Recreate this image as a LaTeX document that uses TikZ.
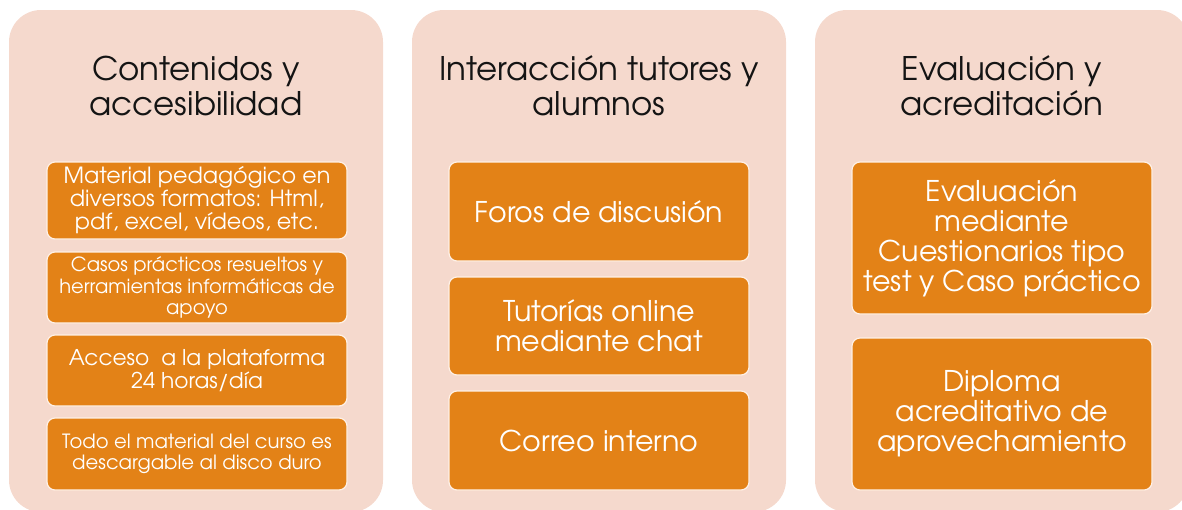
\documentclass[tikz,border=0pt]{standalone}
\usepackage{fontspec}
\setmainfont{TeX Gyre Adventor}
\definecolor{panelbg}{HTML}{F5D9CD}
\definecolor{boxor}{HTML}{E38217}
\definecolor{boxedge}{HTML}{FFF1E6}
\definecolor{titletext}{HTML}{141414}
\begin{document}
\begin{tikzpicture}[x=1pt,y=-1pt,
  panel/.style={fill=panelbg, rounded corners=32pt},
  title/.style={text=titletext, align=center, font=\fontsize{32.5}{35}\selectfont, inner sep=0pt},
  obox/.style={fill=boxor, draw=boxedge, line width=1.2pt, rounded corners=8pt, minimum width=300pt,
    text=white, align=center, inner sep=0pt},
  fA/.style={font=\fontsize{22.3}{23}\selectfont},
  fA2/.style={font=\fontsize{21.7}{23}\selectfont},
  fB/.style={font=\fontsize{19.5}{21.5}\selectfont},
  fC/.style={font=\fontsize{19.6}{20.5}\selectfont},
  fD/.style={font=\fontsize{28.5}{30}\selectfont}
]
\useasboundingbox (0,0) rectangle (1182,509);
\begin{scope}
\clip (0,0) rectangle (1182,509);
\path[panel] (9,10) rectangle (383,512);
\path[panel] (412,10) rectangle (786,512);
\path[panel] (815,10) rectangle (1189,512);
\end{scope}
% titles
\node[title] (t1) at (196,86) {Contenidos y\\accesibilidad};
\node[title] (t2) at (599,86) {Interacción tutores y\\alumnos};
\node[title] (t3) at (1002,86) {Evaluación y\\acreditación};
% column 1
\node[obox, fA, minimum height=77pt] (a1) at (197,200.5) {Material pedagógico en\\diversos formatos: Html,\\pdf, excel, vídeos, etc.};
\node[obox, fB, minimum height=71pt] (a2) at (197,287.5) {Casos prácticos resueltos y\\herramientas informáticas de\\apoyo};
\node[obox, fA2, minimum height=71pt] (a3) at (197,370.5) {Acceso~ a la plataforma\\24 horas/día};
\node[obox, fC, minimum height=72pt] (a4) at (197,454) {Todo el material del curso es\\descargable al disco duro};
% column 2
\node[obox, fD, minimum height=99pt] (b1) at (599,211.5) {Foros de discusión};
\node[obox, fD, minimum height=98pt] (b2) at (599,326) {Tutorías online\\mediante chat};
\node[obox, fD, minimum height=99pt] (b3) at (599,440.5) {Correo interno};
% column 3
\node[obox, fD, minimum height=152pt] (c1) at (1002,238) {Evaluación\\mediante\\Cuestionarios tipo\\test y Caso práctico};
\node[obox, fD, minimum height=152pt] (c2) at (1002,414) {Diploma\\acreditativo de\\aprovechamiento};
\end{tikzpicture}
\end{document}
